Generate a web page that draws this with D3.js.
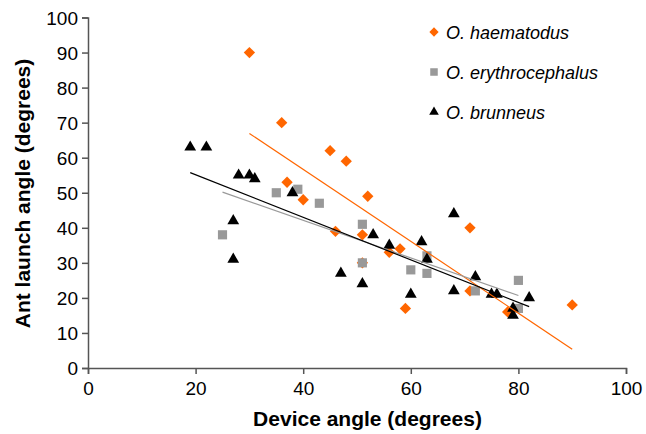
<!DOCTYPE html>
<html>
<head>
<meta charset="utf-8">
<script src="https://cdn.jsdelivr.net/npm/d3@7"></script>
<style>
  body { margin: 0; background: #fff; }
  svg { display: block; font-family: "Liberation Sans", Arial, sans-serif; }
</style>
</head>
<body>
<div id="chart"></div>
<script>
var width = 646;
var height = 434;

// O. haematodus
var haemX = [30, 36, 37, 40, 45, 48, 52, 46, 51, 51, 56, 58, 71, 59, 71, 78, 90];
var haemY = [90, 70, 53, 48, 62, 59, 49, 39, 38, 30, 33, 34, 40, 17, 22, 16, 18];

// O. erythrocephalus
var eryX = [25, 35, 39, 43, 51, 51, 60, 63, 63, 72, 80, 80];
var eryY = [38, 50, 51, 47, 41, 30, 28, 32, 27, 22, 25, 17];

// O. brunneus
var brunX = [19, 22, 28, 30, 31, 38, 27, 27, 47, 51, 53, 56, 62, 63, 60, 68, 68, 72, 75, 76, 79, 79, 82];
var brunY = [63, 63, 55, 55, 54, 50, 42, 31, 27, 24, 38, 35, 36, 31, 21, 44, 22, 26, 21, 21, 17, 15, 20];

var seriesNames = ['O. haematodus', 'O. erythrocephalus', 'O. brunneus'];
var xTicks = [0, 20, 40, 60, 80, 100];
var yTicks = [0, 10, 20, 30, 40, 50, 60, 70, 80, 90, 100];

var series = [
  { name: seriesNames[0], xs: haemX, ys: haemY, color: '#ff6600', shape: 'diamond' },
  { name: seriesNames[1], xs: eryX, ys: eryY, color: '#999999', shape: 'square' },
  { name: seriesNames[2], xs: brunX, ys: brunY, color: '#000000', shape: 'triangle' }
];

var x = d3.scaleLinear().domain([0, 100]).range([88, 626]);
var y = d3.scaleLinear().domain([0, 100]).range([368, 17.5]);

var svg = d3.select('#chart')
  .append('svg')
  .attr('width', width)
  .attr('height', height);

function symbolPath(shape, big) {
  var k = big ? 1 : 0.82;
  if (shape === 'diamond') return d3.symbol(d3.symbolSquare, 64 * k * k)();
  if (shape === 'square') return d3.symbol(d3.symbolSquare, 84 * k * k)();
  return d3.symbol(d3.symbolTriangle, 60 * k * k)();
}

// axes
var xAxis = svg.append('g')
  .attr('transform', 'translate(0,' + y(0) + ')')
  .call(d3.axisBottom(x).tickValues(xTicks).tickSizeOuter(0).tickSize(6).tickPadding(8));

var yAxis = svg.append('g')
  .attr('transform', 'translate(' + x(0) + ',0)')
  .call(d3.axisLeft(y).tickValues(yTicks).tickSizeOuter(0).tickSize(6).tickPadding(4));

[xAxis, yAxis].forEach(function(g) {
  g.selectAll('path, line').attr('stroke', '#555').attr('stroke-width', 1.5);
  g.selectAll('text').attr('fill', '#000').style('font-size', '19px')
    .style('font-family', '"Liberation Sans", Arial, sans-serif');
});
yAxis.selectAll('text').attr('dy', '0.35em');

// points
series.forEach(function(s) {
  var pts = s.xs.map(function(v, i) { return [v, s.ys[i]]; });
  svg.append('g')
    .selectAll('path')
    .data(pts)
    .enter()
    .append('path')
    .attr('d', symbolPath(s.shape, true))
    .attr('transform', function(d) {
      var t = 'translate(' + x(d[0]) + ',' + y(d[1]) + ')';
      return s.shape === 'diamond' ? t + ' rotate(45)' : t;
    })
    .attr('fill', s.color);
});

// least-squares trend lines over each series' range
series.forEach(function(s) {
  var mx = d3.mean(s.xs), my = d3.mean(s.ys);
  var sxy = d3.sum(s.xs, function(v, i) { return (v - mx) * (s.ys[i] - my); });
  var sxx = d3.sum(s.xs, function(v) { return (v - mx) * (v - mx); });
  var b = sxy / sxx, a = my - b * mx;
  var x0 = d3.min(s.xs), x1 = d3.max(s.xs);
  svg.append('line')
    .attr('x1', x(x0)).attr('y1', y(a + b * x0))
    .attr('x2', x(x1)).attr('y2', y(a + b * x1))
    .attr('stroke', s.color)
    .attr('stroke-width', 1.2);
});

// legend
var legend = svg.append('g').attr('transform', 'translate(434,32)');
series.forEach(function(s, i) {
  var row = legend.append('g').attr('transform', 'translate(0,' + i * 40 + ')');
  row.append('path')
    .attr('d', symbolPath(s.shape, false))
    .attr('transform', s.shape === 'diamond' ? 'rotate(45)' : null)
    .attr('fill', s.color);
  row.append('text')
    .attr('x', 12)
    .attr('y', 6.5)
    .style('font-size', '18px')
    .style('font-style', 'italic')
    .text(s.name);
});

// axis titles
svg.append('text')
  .attr('x', 367.5)
  .attr('y', 426)
  .attr('text-anchor', 'middle')
  .style('font-size', '21px')
  .style('font-weight', 'bold')
  .text('Device angle (degrees)');

svg.append('text')
  .attr('transform', 'translate(29.5,193.5) rotate(-90)')
  .attr('text-anchor', 'middle')
  .style('font-size', '21px')
  .style('font-weight', 'bold')
  .text('Ant launch angle (degrees)');
</script>
</body>
</html>
